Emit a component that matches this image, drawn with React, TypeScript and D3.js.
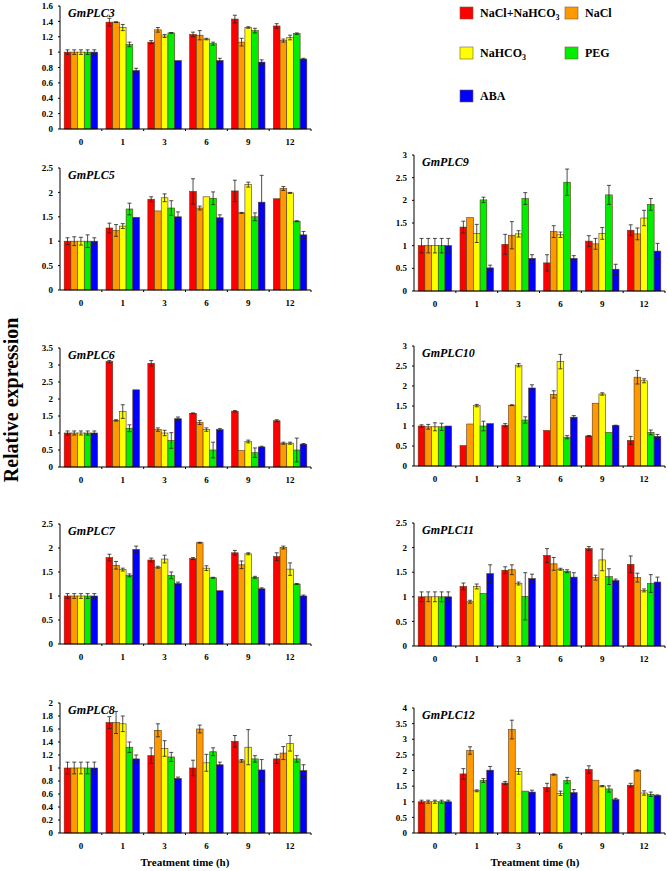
import React from 'react';
import * as d3 from 'd3';

const times = ['0', '1', '3', '6', '9', '12'];
const treatments = ['NaCl+NaHCO3', 'NaCl', 'NaHCO3', 'PEG', 'ABA'];
const colors = ['#ff0000', '#ff9900', '#ffff00', '#00ee00', '#0000ff'];

// rows = time points, columns = treatments
const plc3Mean = [[1, 1, 1, 1, 1], [1.39, 1.39, 1.32, 1.1, 0.76], [1.13, 1.29, 1.21, 1.25, 0.89], [1.23, 1.22, 1.17, 1.11, 0.89], [1.43, 1.13, 1.32, 1.28, 0.87], [1.34, 1.15, 1.19, 1.24, 0.91]];
const plc3Err = [[0.03, 0.03, 0.03, 0.03, 0.03], [0.05, 0.005, 0.04, 0.03, 0.03], [0.02, 0.03, 0.02, 0.005, 0], [0.03, 0.06, 0.01, 0.02, 0.03], [0.05, 0.05, 0.01, 0.03, 0.03], [0.03, 0.02, 0.03, 0.01, 0.01]];

const plc5Mean = [[1, 1, 1, 1, 1], [1.27, 1.22, 1.31, 1.66, 1.49], [1.86, 1.62, 1.89, 1.68, 1.5], [2.02, 1.68, 1.91, 1.88, 1.48], [2.03, 1.58, 2.16, 1.5, 1.8], [1.87, 2.08, 1.99, 1.41, 1.13]];
const plc5Err = [[0.07, 0.09, 0.08, 0.13, 0.07], [0.1, 0.12, 0.05, 0.12, 0], [0.05, 0, 0.08, 0.15, 0.1], [0.26, 0.04, 0, 0.13, 0.06], [0.22, 0.01, 0.05, 0.08, 0.55], [0, 0.04, 0.01, 0.01, 0.07]];

const plc6Mean = [[1, 1, 1, 1, 1], [3.1, 1.37, 1.63, 1.14, 2.27], [3.05, 1.1, 1.0, 0.78, 1.42], [1.58, 1.31, 1.1, 0.5, 1.1], [1.64, 0.48, 0.75, 0.42, 0.59], [1.36, 0.7, 0.7, 0.5, 0.67]];
const plc6Err = [[0.06, 0.06, 0.06, 0.06, 0.06], [0.03, 0.02, 0.2, 0.1, 0], [0.08, 0.05, 0.08, 0.23, 0.05], [0.01, 0.06, 0.05, 0.23, 0.03], [0.02, 0, 0.04, 0.14, 0.02], [0.03, 0.03, 0.03, 0.35, 0.02]];

const plc7Mean = [[1, 1, 1, 1, 1], [1.8, 1.64, 1.55, 1.43, 1.97], [1.75, 1.6, 1.77, 1.43, 1.26], [1.78, 2.11, 1.58, 1.38, 1.11], [1.9, 1.65, 1.88, 1.39, 1.15], [1.82, 2.01, 1.56, 1.25, 1.0]];
const plc7Err = [[0.05, 0.05, 0.05, 0.05, 0.05], [0.07, 0.08, 0.03, 0.03, 0.07], [0.04, 0.02, 0.08, 0.07, 0.03], [0.02, 0.01, 0.05, 0.01, 0], [0.05, 0.08, 0.02, 0.02, 0.02], [0.08, 0.03, 0.13, 0.01, 0.02]];

const plc8Mean = [[1, 1, 1, 1, 1], [1.7, 1.7, 1.68, 1.32, 1.14], [1.19, 1.58, 1.3, 1.17, 0.84], [1.0, 1.6, 1.08, 1.25, 1.05], [1.41, 1.11, 1.32, 1.14, 0.97], [1.14, 1.23, 1.38, 1.14, 0.96]];
const plc8Err = [[0.09, 0.09, 0.09, 0.09, 0.09], [0.09, 0.17, 0.12, 0.08, 0.06], [0.12, 0.1, 0.12, 0.07, 0.02], [0.12, 0.06, 0.13, 0.06, 0.04], [0.09, 0.02, 0.27, 0.05, 0.16], [0.07, 0.1, 0.12, 0.05, 0.09]];

const plc9Mean = [[1, 1, 1, 1, 1], [1.41, 1.62, 1.27, 2.01, 0.51], [1.03, 1.23, 1.26, 2.04, 0.72], [0.62, 1.31, 1.24, 2.4, 0.72], [1.1, 1.04, 1.27, 2.12, 0.48], [1.34, 1.26, 1.61, 1.91, 0.88]];
const plc9Err = [[0.16, 0.16, 0.16, 0.16, 0.16], [0.13, 0, 0.2, 0.06, 0.06], [0.22, 0.3, 0.07, 0.13, 0.08], [0.18, 0.13, 0.06, 0.29, 0.06], [0.12, 0.12, 0.13, 0.21, 0.11], [0.12, 0.13, 0.17, 0.13, 0.17]];

const plc10Mean = [[1, 0.98, 0.98, 0.98, 1], [0.51, 1.05, 1.51, 1.0, 1.06], [1.02, 1.52, 2.52, 1.15, 1.95], [0.89, 1.79, 2.61, 0.72, 1.22], [0.75, 1.57, 1.8, 0.84, 1.01], [0.64, 2.22, 2.13, 0.84, 0.74]];
const plc10Err = [[0.03, 0.06, 0.1, 0.09, 0], [0, 0, 0.03, 0.12, 0], [0.04, 0.01, 0.04, 0.08, 0.08], [0, 0.09, 0.18, 0.04, 0.04], [0.01, 0, 0.03, 0, 0.01], [0.1, 0.17, 0.05, 0.06, 0.05]];

const plc11Mean = [[1, 1, 1, 1, 1], [1.21, 0.9, 1.21, 1.07, 1.47], [1.54, 1.55, 1.27, 1.01, 1.37], [1.84, 1.67, 1.56, 1.52, 1.4], [1.98, 1.39, 1.75, 1.41, 1.33], [1.66, 1.39, 1.13, 1.27, 1.3]];
const plc11Err = [[0.1, 0.1, 0.1, 0.1, 0.1], [0.07, 0.03, 0.05, 0, 0.18], [0.07, 0.1, 0.03, 0.48, 0.09], [0.14, 0.13, 0.02, 0.03, 0.09], [0.04, 0.05, 0.22, 0.16, 0.03], [0.17, 0.09, 0.03, 0.18, 0.1]];

const plc12Mean = [[1, 1, 1, 1, 1], [1.89, 2.64, 1.35, 1.68, 2.01], [1.6, 3.31, 1.97, 1.34, 1.31], [1.46, 1.87, 1.27, 1.68, 1.29], [2.03, 1.69, 1.5, 1.41, 1.07], [1.53, 2.0, 1.28, 1.24, 1.2]];
const plc12Err = [[0.05, 0.05, 0.05, 0.05, 0.05], [0.17, 0.12, 0.03, 0.06, 0.12], [0.05, 0.3, 0.09, 0, 0.06], [0.13, 0.02, 0.07, 0.1, 0.1], [0.12, 0, 0.02, 0.1, 0.04], [0.06, 0.02, 0.07, 0.07, 0.02]];

const FONT = '"Liberation Serif", "Times New Roman", serif';

const panels = [
  { name: 'GmPLC3', mean: plc3Mean, err: plc3Err, yMax: 1.6, step: 0.2, x0: 60, x1: 311, top: 6, bottom: 129 },
  { name: 'GmPLC5', mean: plc5Mean, err: plc5Err, yMax: 2.5, step: 0.5, x0: 60, x1: 311, top: 168, bottom: 290 },
  { name: 'GmPLC6', mean: plc6Mean, err: plc6Err, yMax: 3.5, step: 0.5, x0: 60, x1: 311, top: 348, bottom: 467 },
  { name: 'GmPLC7', mean: plc7Mean, err: plc7Err, yMax: 2.5, step: 0.5, x0: 60, x1: 311, top: 524, bottom: 644 },
  { name: 'GmPLC8', mean: plc8Mean, err: plc8Err, yMax: 2, step: 0.2, x0: 60, x1: 311, top: 703, bottom: 833 },
  { name: 'GmPLC9', mean: plc9Mean, err: plc9Err, yMax: 3, step: 0.5, x0: 414, x1: 665, top: 155, bottom: 291 },
  { name: 'GmPLC10', mean: plc10Mean, err: plc10Err, yMax: 3, step: 0.5, x0: 414, x1: 665, top: 346, bottom: 466 },
  { name: 'GmPLC11', mean: plc11Mean, err: plc11Err, yMax: 2.5, step: 0.5, x0: 414, x1: 665, top: 523, bottom: 646 },
  { name: 'GmPLC12', mean: plc12Mean, err: plc12Err, yMax: 4, step: 0.5, x0: 414, x1: 665, top: 708, bottom: 833 },
];

const Panel = ({ p }: { p: typeof panels[0] }) => {
  const x = d3.scaleBand().domain(times).range([p.x0, p.x1]).paddingInner(0.2).paddingOuter(0.1);
  const xs = d3.scaleBand().domain(treatments).range([0, x.bandwidth()]);
  const y = d3.scaleLinear().domain([0, p.yMax]).range([p.bottom, p.top]);
  const ticks = d3.range(0, p.yMax + 1e-9, p.step).map(v => +v.toFixed(2));
  const step = x.step();
  return (
    <g>
      {p.mean.map((row, i) =>
        row.map((v, j) => {
          const bx = x(times[i])! + xs(treatments[j])!;
          const cx = bx + xs.bandwidth() / 2;
          const e = p.err[i][j];
          return (
            <g key={`${i}-${j}`}>
              <rect x={bx} y={y(v)} width={xs.bandwidth()} height={p.bottom - y(v)}
                fill={colors[j]} stroke="#5a3a1a" strokeWidth={0.6} />
              {e > 0 && (
                <g stroke="#222" strokeWidth={0.8}>
                  <line x1={cx} x2={cx} y1={y(v + e)} y2={y(v - e)} />
                  <line x1={cx - 2} x2={cx + 2} y1={y(v + e)} y2={y(v + e)} />
                  <line x1={cx - 2} x2={cx + 2} y1={y(v - e)} y2={y(v - e)} />
                </g>
              )}
            </g>
          );
        })
      )}
      <line x1={p.x0} x2={p.x0} y1={p.top} y2={p.bottom} stroke="#000" strokeWidth={1} />
      <line x1={p.x0} x2={p.x1} y1={p.bottom} y2={p.bottom} stroke="#000" strokeWidth={1} />
      {ticks.map(t => (
        <g key={t}>
          <line x1={p.x0 - 2} x2={p.x0} y1={y(t)} y2={y(t)} stroke="#000" />
          <text x={p.x0 - 7} y={y(t)} dy="0.35em" textAnchor="end" fontSize={9} fontWeight="bold" fontFamily={FONT}>{t}</text>
        </g>
      ))}
      {times.map((t, i) => (
        <g key={t}>
          {i > 0 && <line x1={x(t)! - step * 0.1} x2={x(t)! - step * 0.1} y1={p.bottom} y2={p.bottom + 2} stroke="#000" />}
          <text x={x(t)! + x.bandwidth() / 2} y={p.bottom + 13} dy="0.35em" textAnchor="middle" fontSize={9} fontWeight="bold" fontFamily={FONT}>{t}</text>
        </g>
      ))}
      <line x1={p.x1} x2={p.x1} y1={p.bottom} y2={p.bottom + 2} stroke="#000" />
      <text x={p.x0 + 8} y={p.top + 11} fontSize={12} fontWeight="bold" fontStyle="italic" fontFamily={FONT}>{p.name}</text>
    </g>
  );
};

const Label = ({ s }: { s: string }) =>
  s.endsWith('NaHCO3') ? (
    <>{s.slice(0, -1)}<tspan fontSize={8} dy={3}>3</tspan></>
  ) : (
    <>{s}</>
  );

const legendPos = [[460, 13], [565, 13], [460, 53], [565, 53], [460, 96]];

export default function App() {
  return (
    <svg width={668} height={871} style={{ position: 'absolute', left: 0, top: 0, background: '#fff' }}>
      {panels.map(p => <Panel key={p.name} p={p} />)}
      {treatments.map((t, i) => (
        <g key={t} transform={`translate(${legendPos[i][0]},${legendPos[i][1]})`}>
          <rect x={0} y={-6} width={13} height={12} fill={colors[i]} stroke="#7a5a3a" strokeWidth={0.6} />
          <text x={20} y={0} dy="0.35em" fontSize={12} fontWeight="bold" fontFamily={FONT}><Label s={t} /></text>
        </g>
      ))}
      <text transform="translate(18,400) rotate(-90)" textAnchor="middle" fontSize={20} fontWeight="bold" fontFamily={FONT}>Relative expression</text>
      <text x={185} y={866} textAnchor="middle" fontSize={11} fontWeight="bold" fontFamily={FONT}>Treatment time (h)</text>
      <text x={535} y={866} textAnchor="middle" fontSize={11} fontWeight="bold" fontFamily={FONT}>Treatment time (h)</text>
    </svg>
  );
}
